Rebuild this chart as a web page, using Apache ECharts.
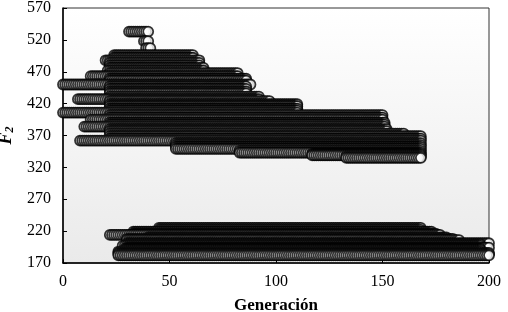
<!DOCTYPE html>
<html>
<head>
<meta charset="utf-8">
<script src="https://cdn.jsdelivr.net/npm/echarts@6/dist/echarts.min.js"></script>
<style>
  html, body { margin: 0; padding: 0; background: #fff; }
  #chart { width: 508px; height: 312px; }
</style>
</head>
<body>
<div id="chart"></div>
<script>
// each run: one individual holding the same F2 over a span of generations
// [first generation, last generation, F2]
const upperRuns = [
  [31, 40, 533],
  [38, 40, 518],
  [39, 41, 507],
  [24, 61, 496],
  [24, 61, 492],
  [20, 64, 488],
  [22, 64, 484],
  [22, 64, 480],
  [22, 66, 476],
  [21, 66, 472],
  [22, 82, 468],
  [13, 82, 463],
  [22, 86, 459],
  [22, 86, 456],
  [0, 88, 450],
  [22, 86, 447],
  [22, 86, 443],
  [22, 86, 439],
  [22, 86, 436],
  [22, 92, 431],
  [7, 92, 427],
  [22, 97, 424],
  [22, 110, 419],
  [22, 110, 416],
  [22, 110, 412],
  [22, 110, 409],
  [0, 110, 406],
  [22, 150, 402],
  [22, 150, 398],
  [13, 150, 395],
  [22, 151, 390],
  [22, 151, 387],
  [10, 151, 384],
  [22, 152, 380],
  [22, 152, 377],
  [22, 160, 373],
  [22, 168, 369],
  [22, 168, 365],
  [8, 168, 362],
  [53, 168, 358],
  [53, 168, 355],
  [53, 168, 352],
  [53, 168, 349],
  [83, 168, 346],
  [83, 168, 343],
  [117, 168, 341],
  [117, 168, 339],
  [133, 168, 337],
  [133, 168, 335],
];

const lowerRuns = [
  [45, 168, 225],
  [45, 168, 222],
  [33, 173, 219],
  [33, 175, 216],
  [22, 177, 214],
  [40, 180, 210],
  [30, 183, 208],
  [30, 186, 206],
  [30, 200, 201],
  [30, 196, 199],
  [28, 196, 197],
  [30, 200, 194],
  [29, 196, 192],
  [29, 196, 190],
  [26, 196, 188],
  [26, 200, 186],
  [26, 200, 184],
  [26, 200, 182],
];

const xName = 'Generación';

// one point per generation of each run
function expand(runs) {
  const pts = [];
  runs.forEach(([g0, g1, v]) => {
    for (let g = g0; g <= g1; g++) pts.push([g, v]);
  });
  return pts;
}

const font = 'Liberation Serif';
const mychart = echarts.init(document.getElementById('chart'));

const dot = {
  type: 'scatter',
  symbol: 'circle',
  symbolSize: 10,
  progressive: 0,
  silent: true,
  itemStyle: {
    color: '#ffffff',
    borderColor: '#000000',
    borderWidth: 1.8,
  },
};

const option = {
  animation: false,
  grid: {
    left: 63,
    right: 19,
    top: 8,
    bottom: 49,
    outerBoundsMode: 'none',
    containLabel: false,
    show: true,
    borderColor: '#333',
    borderWidth: 1,
    backgroundColor: new echarts.graphic.LinearGradient(0, 0, 0, 1, [
      { offset: 0, color: '#ffffff' },
      { offset: 1, color: '#eaeaea' },
    ]),
  },
  xAxis: {
    type: 'value',
    min: 0,
    max: 200,
    interval: 50,
    name: xName,
    nameLocation: 'middle',
    nameGap: 34,
    nameTextStyle: { fontFamily: font, fontWeight: 'bold', fontSize: 17, color: '#000' },
    splitLine: { show: false },
    axisLine: { lineStyle: { color: '#000', width: 1.5 } },
    axisTick: { inside: true, length: 4, lineStyle: { color: '#000' } },
    axisLabel: { fontFamily: font, fontSize: 16, color: '#000', margin: 11 },
  },
  yAxis: {
    type: 'value',
    min: 170,
    max: 570,
    interval: 50,
    name: '{f|F}{s|2}',
    nameLocation: 'middle',
    nameGap: 46,
    nameTextStyle: {
      rich: {
        f: { fontFamily: font, fontWeight: 'bold', fontStyle: 'italic', fontSize: 18, color: '#000', lineHeight: 20 },
        s: { fontFamily: font, fontWeight: 'bold', fontStyle: 'italic', fontSize: 12, color: '#000', verticalAlign: 'bottom', lineHeight: 20, padding: [8, 0, 0, 0] },
      },
    },
    splitLine: { show: false },
    axisLine: { show: true, lineStyle: { color: '#000', width: 1.5 } },
    axisTick: { show: true, inside: true, length: 4, lineStyle: { color: '#000' } },
    axisLabel: { fontFamily: font, fontSize: 16, color: '#000', margin: 12 },
  },
  series: [
    Object.assign({}, dot, { data: expand(upperRuns) }),
    Object.assign({}, dot, { data: expand(lowerRuns) }),
  ],
};

mychart.setOption(option);
</script>
</body>
</html>
